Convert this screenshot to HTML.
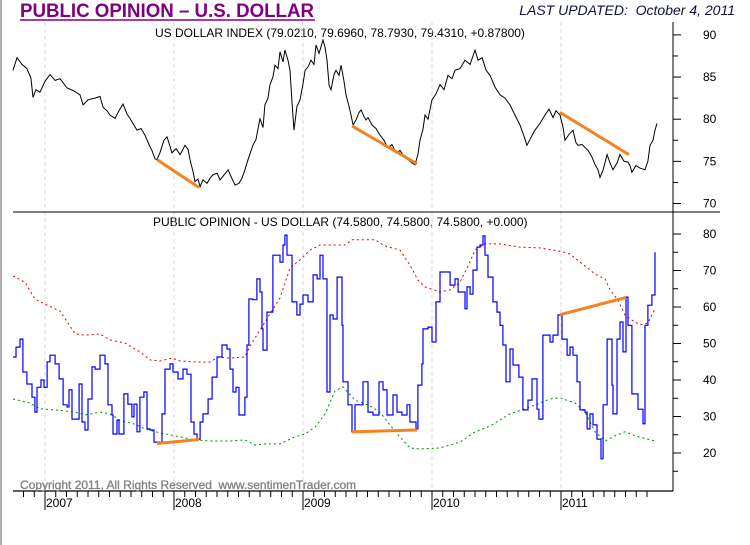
<!DOCTYPE html>
<html><head><meta charset="utf-8"><style>
html,body{margin:0;padding:0;background:#fff;}
svg{display:block;font-family:"Liberation Sans",Arial,sans-serif;}
</style></head><body>
<svg id="chart" width="750" height="545" viewBox="0 0 750 545">
<rect x="0" y="0" width="750" height="545" fill="#fff"/>
<rect x="0" y="0" width="2" height="545" fill="#b0b0b0"/>
<text x="20" y="17" font-size="19" font-weight="bold" fill="#800080" textLength="294" lengthAdjust="spacingAndGlyphs">PUBLIC OPINION – U.S. DOLLAR</text>
<line x1="20" y1="20" x2="315" y2="20" stroke="#800080" stroke-width="1.5"/>
<text x="735" y="15" font-size="14" font-style="italic" fill="#101040" text-anchor="end" xml:space="preserve">LAST UPDATED:  October 4, 2011</text>
<text x="155" y="37" font-size="12" fill="#000">US DOLLAR INDEX (79.0210, 79.6960, 78.7930, 79.4310, +0.87800)</text>
<text x="153" y="226" font-size="12" fill="#000">PUBLIC OPINION - US DOLLAR (74.5800, 74.5800, 74.5800, +0.000)</text>
<g id="grid"></g>
<g id="axes"></g>
<g id="marks"></g>
<text x="20" y="489" font-size="12" fill="#808080" stroke="#808080" stroke-width="0.3" xml:space="preserve">Copyright 2011, All Rights Reserved  www.sentimenTrader.com</text>
</svg>
<script>
const dxyDates=[2006.752,2006.783,2006.822,2006.860,2006.891,2006.907,2006.930,2006.961,2007.000,2007.039,2007.078,2007.116,2007.171,2007.217,2007.271,2007.295,2007.333,2007.388,2007.426,2007.450,2007.481,2007.504,2007.543,2007.574,2007.605,2007.636,2007.659,2007.713,2007.744,2007.775,2007.806,2007.829,2007.853,2007.868,2007.891,2007.922,2007.946,2007.969,2007.984,2008.016,2008.047,2008.085,2008.109,2008.124,2008.147,2008.163,2008.186,2008.202,2008.225,2008.256,2008.279,2008.302,2008.333,2008.357,2008.388,2008.419,2008.442,2008.473,2008.504,2008.527,2008.550,2008.574,2008.612,2008.636,2008.667,2008.690,2008.705,2008.729,2008.744,2008.767,2008.783,2008.806,2008.822,2008.845,2008.860,2008.884,2008.899,2008.915,2008.930,2008.953,2008.977,2009.000,2009.016,2009.039,2009.062,2009.085,2009.101,2009.124,2009.155,2009.171,2009.186,2009.202,2009.217,2009.240,2009.256,2009.279,2009.295,2009.318,2009.333,2009.357,2009.372,2009.388,2009.411,2009.434,2009.450,2009.473,2009.488,2009.504,2009.535,2009.566,2009.597,2009.628,2009.659,2009.690,2009.721,2009.752,2009.783,2009.814,2009.845,2009.868,2009.891,2009.907,2009.930,2009.946,2009.969,2010.000,2010.031,2010.062,2010.093,2010.124,2010.155,2010.178,2010.217,2010.256,2010.295,2010.333,2010.357,2010.388,2010.419,2010.450,2010.488,2010.527,2010.566,2010.605,2010.643,2010.682,2010.713,2010.736,2010.767,2010.798,2010.837,2010.876,2010.907,2010.938,2010.961,2010.992,2011.016,2011.031,2011.062,2011.093,2011.116,2011.132,2011.163,2011.209,2011.240,2011.264,2011.287,2011.302,2011.326,2011.357,2011.380,2011.403,2011.434,2011.457,2011.488,2011.519,2011.535,2011.550,2011.581,2011.612,2011.651,2011.674,2011.690,2011.713,2011.729,2011.744];
const dxyValues=[85.8,87.3,86.5,86.0,84.9,82.6,83.5,83.2,84.5,85.3,84.6,84.8,83.7,83.4,82.9,81.7,82.3,82.5,82.7,81.4,81.0,80.5,80.1,81.0,81.8,80.6,80.1,78.7,78.9,78.1,77.0,76.3,75.3,75.2,76.0,77.5,77.9,76.8,76.0,76.5,75.8,76.9,76.4,75.2,73.8,72.6,72.9,72.0,72.8,72.4,73.0,73.4,73.6,72.8,73.4,74.0,73.2,72.2,72.4,73.0,74.0,75.2,76.9,77.6,80.1,79.0,81.7,82.5,84.1,85.0,86.4,86.0,88.0,86.8,88.2,87.0,85.8,82.0,78.7,81.5,82.3,84.2,85.8,86.2,87.0,86.5,88.8,87.8,89.4,88.5,87.0,84.0,83.5,85.3,85.8,85.2,86.4,84.5,82.9,81.5,80.5,79.3,79.9,80.8,81.1,80.3,79.9,80.2,79.3,78.9,78.1,77.5,76.6,77.0,76.0,76.3,75.6,75.2,74.8,74.6,75.8,77.5,78.8,80.5,80.0,82.3,83.0,84.1,83.5,85.2,84.8,85.8,86.0,87.0,86.5,88.2,87.0,87.3,85.8,85.2,83.8,82.9,82.5,81.7,80.5,79.3,78.0,76.9,77.8,78.7,79.5,80.5,81.2,80.2,81.0,80.5,79.0,77.5,78.2,78.7,77.2,76.9,77.0,76.3,75.5,74.6,74.0,73.1,74.0,75.8,74.8,74.0,74.8,75.8,75.0,74.9,74.5,73.7,74.5,74.2,74.0,75.0,76.9,77.5,78.7,79.5];

const opDates=[2006.752,2006.775,2006.806,2006.829,2006.860,2006.899,2006.922,2006.938,2006.969,2006.992,2007.016,2007.039,2007.078,2007.109,2007.140,2007.171,2007.186,2007.209,2007.264,2007.287,2007.310,2007.333,2007.364,2007.388,2007.426,2007.465,2007.488,2007.519,2007.527,2007.558,2007.574,2007.612,2007.643,2007.674,2007.690,2007.713,2007.736,2007.767,2007.791,2007.814,2007.845,2007.891,2007.907,2007.930,2007.969,2007.992,2008.031,2008.070,2008.101,2008.132,2008.155,2008.178,2008.202,2008.225,2008.264,2008.295,2008.333,2008.372,2008.411,2008.434,2008.457,2008.481,2008.504,2008.550,2008.566,2008.581,2008.612,2008.643,2008.667,2008.682,2008.690,2008.721,2008.767,2008.798,2008.822,2008.845,2008.860,2008.876,2008.915,2008.953,2008.977,2009.000,2009.039,2009.078,2009.109,2009.132,2009.155,2009.186,2009.209,2009.233,2009.264,2009.302,2009.310,2009.349,2009.380,2009.403,2009.465,2009.504,2009.543,2009.589,2009.620,2009.651,2009.698,2009.729,2009.767,2009.806,2009.829,2009.876,2009.891,2009.922,2009.930,2009.969,2010.000,2010.031,2010.062,2010.101,2010.140,2010.178,2010.202,2010.233,2010.256,2010.271,2010.295,2010.318,2010.349,2010.372,2010.395,2010.411,2010.434,2010.473,2010.504,2010.527,2010.550,2010.574,2010.605,2010.628,2010.674,2010.705,2010.744,2010.775,2010.814,2010.829,2010.860,2010.915,2010.938,2010.977,2011.008,2011.047,2011.070,2011.093,2011.124,2011.147,2011.186,2011.202,2011.225,2011.248,2011.279,2011.310,2011.326,2011.357,2011.395,2011.403,2011.434,2011.457,2011.481,2011.504,2011.519,2011.550,2011.574,2011.597,2011.636,2011.651,2011.674,2011.705,2011.729];
const opValues=[46.3,49.0,51.2,42.2,38.9,35.3,31.2,38.0,40.0,38.0,45.0,46.8,44.4,40.3,33.2,32.6,37.3,29.3,38.9,28.5,26.3,34.8,43.6,43.0,46.8,44.4,33.2,30.4,25.2,29.0,25.2,36.2,33.4,29.9,33.4,25.8,35.3,36.7,26.6,26.3,23.0,23.0,30.7,43.0,44.4,42.2,40.3,43.0,41.6,28.5,25.2,23.8,28.5,30.7,34.8,40.8,46.3,49.6,48.5,43.0,36.7,38.0,30.4,35.3,49.6,62.2,62.0,67.7,64.1,54.0,48.2,58.6,74.2,74.2,72.3,77.0,79.7,74.2,61.4,57.8,60.8,63.3,61.4,68.8,67.7,74.2,67.7,36.7,57.8,56.7,68.2,55.0,39.5,33.2,25.8,33.2,39.5,31.2,30.4,39.5,37.3,30.4,35.9,31.2,30.4,33.2,28.5,26.6,38.6,44.4,54.0,54.5,50.4,61.4,69.6,69.6,66.0,67.7,64.1,64.1,59.5,65.5,63.5,70.1,76.4,77.0,79.5,74.2,68.2,61.4,58.6,55.0,49.6,39.5,48.5,44.1,40.8,31.8,34.5,40.3,32.0,29.3,52.3,50.4,52.3,57.8,51.2,46.8,49.0,46.8,39.5,31.8,31.2,26.6,30.7,27.7,23.8,18.4,33.2,51.2,38.6,30.7,51.2,55.9,47.7,62.7,55.0,36.2,36.2,32.0,28.0,55.0,60.5,63.3,75.0];

const upperDates=[2006.752,2006.845,2006.922,2007.000,2007.116,2007.194,2007.233,2007.310,2007.426,2007.504,2007.620,2007.736,2007.814,2007.891,2007.984,2008.047,2008.202,2008.279,2008.341,2008.434,2008.550,2008.589,2008.667,2008.744,2008.822,2008.899,2008.977,2009.054,2009.132,2009.233,2009.326,2009.380,2009.558,2009.636,2009.752,2009.829,2009.891,2009.946,2010.062,2010.140,2010.217,2010.279,2010.333,2010.411,2010.527,2010.682,2010.837,2010.992,2011.070,2011.147,2011.264,2011.341,2011.380,2011.442,2011.496,2011.550,2011.612,2011.674,2011.729];
const upperValues=[68.5,66.8,62.2,60.8,58.9,54.8,52.6,52.3,52.6,51.0,50.1,47.7,45.5,45.2,46.0,45.2,44.9,44.9,46.3,46.0,46.3,49.3,53.7,58.1,62.5,70.7,72.9,75.6,77.0,77.0,77.0,78.4,78.4,76.7,75.6,71.5,67.4,65.5,64.1,64.7,66.8,71.2,75.6,77.3,77.3,76.4,76.2,75.3,74.5,72.3,69.0,67.7,64.7,61.9,57.8,56.4,55.1,55.6,59.5];

const lowerDates=[2006.752,2006.884,2006.961,2007.078,2007.233,2007.310,2007.426,2007.504,2007.581,2007.698,2007.775,2007.891,2008.008,2008.163,2008.279,2008.434,2008.550,2008.628,2008.705,2008.822,2008.938,2009.016,2009.093,2009.171,2009.248,2009.310,2009.403,2009.519,2009.597,2009.674,2009.752,2009.829,2009.907,2010.062,2010.217,2010.333,2010.450,2010.605,2010.721,2010.837,2010.915,2010.992,2011.109,2011.186,2011.264,2011.341,2011.419,2011.496,2011.574,2011.729];
const lowerValues=[34.8,33.7,32.1,31.8,31.2,30.4,31.2,30.7,29.0,27.9,26.6,25.5,24.7,23.6,23.3,23.3,23.6,22.2,22.5,22.5,24.4,25.2,27.1,30.7,37.0,38.1,34.5,32.9,31.2,27.7,24.4,21.4,21.1,21.4,23.0,25.8,27.4,30.7,32.1,33.7,34.8,35.1,33.7,31.2,25.8,23.3,24.7,25.8,24.7,23.3];

const topTrendDates=[[2007.868,2008.194],[2009.380,2009.884],[2010.992,2011.527]];
const topTrendValues=[[75.2,71.9],[79.2,74.7],[80.8,75.8]];
const botTrendDates=[[2007.868,2008.194],[2009.380,2009.884],[2010.992,2011.504]];
const botTrendValues=[[22.6,23.7],[25.8,26.3],[57.9,62.6]];

const years=[2007,2008,2009,2010,2011];
const topTicks=[70,75,80,85,90];
const botTicks=[20,30,40,50,60,70,80];

const NS="http://www.w3.org/2000/svg";
function xScale(t){return 45+(t-2007)*129;}
function yTop(v){return 203.5-(v-70)*8.43;}
function yBot(v){return 453-(v-20)*3.65;}
function mk(tag,attrs,parent){const e=document.createElementNS(NS,tag);for(const k in attrs)e.setAttribute(k,attrs[k]);parent.appendChild(e);return e;}
const grid=document.getElementById('grid'),axes=document.getElementById('axes'),marks=document.getElementById('marks');

years.forEach(y=>{
  const x=xScale(y);
  const g=mk('line',{x1:x,y1:22,x2:x,y2:491,stroke:'#d8d8d8','stroke-dasharray':'4,3'},grid);
  
  
  const tl=mk('line',{x1:x,y1:491,x2:x,y2:510,stroke:'#000'},axes);
  
  
  const lab=mk('text',{x:x+1,y:507,'font-size':12,fill:'#000'},axes);
  lab.textContent=y;
  
  
});
for(let m=0;m<=60;m++){
  const t=2006+8/12+m/12; const x=xScale(t);
  if(x<13||x>673)continue;
  const tk=mk('line',{x1:x,y1:491,x2:x,y2:497,stroke:'#000'},axes);
  
  
}
const xa=mk('line',{x1:13,y1:491,x2:673,y2:491,stroke:'#000','stroke-width':1.3},axes);


const ya=mk('line',{x1:673,y1:22,x2:673,y2:491,stroke:'#000'},axes);


const sep=mk('line',{x1:13,y1:212,x2:720,y2:212,stroke:'#000'},axes);



topTicks.forEach(v=>{
  const y=yTop(v);
  const t=mk('line',{x1:673,y1:y,x2:681,y2:y,stroke:'#000'},axes);
  
  
  if(v<90){const m=mk('line',{x1:673,y1:yTop(v+2.5),x2:678,y2:yTop(v+2.5),stroke:'#000'},axes);
  
  }
  const l=mk('text',{x:703,y:y+4,'font-size':12,fill:'#000'},axes);
  l.textContent=v;
  
  
});
botTicks.forEach(v=>{
  const y=yBot(v);
  const t=mk('line',{x1:673,y1:y,x2:681,y2:y,stroke:'#000'},axes);
  
  
  const m=mk('line',{x1:673,y1:yBot(v-5),x2:678,y2:yBot(v-5),stroke:'#000'},axes);
  
  
  const l=mk('text',{x:703,y:y+4,'font-size':12,fill:'#000'},axes);
  l.textContent=v;
  
  
});

function linePath(ds,vs,ys){return ds.map((d,i)=>(i?'L':'M')+xScale(d).toFixed(1)+','+ys(vs[i]).toFixed(1)).join('');}
function stepPath(ds,vs,ys){let p='M'+xScale(ds[0]).toFixed(1)+','+ys(vs[0]).toFixed(1);for(let i=1;i<ds.length;i++){p+='H'+xScale(ds[i]).toFixed(1)+'V'+ys(vs[i]).toFixed(1);}return p;}

const up=mk('path',{d:linePath(upperDates,upperValues,yBot),fill:'none',stroke:'#e00000','stroke-width':1,'stroke-dasharray':'2,3'},marks);


const lo=mk('path',{d:linePath(lowerDates,lowerValues,yBot),fill:'none',stroke:'#008800','stroke-width':1,'stroke-dasharray':'2,3'},marks);


const op=mk('path',{d:stepPath(opDates,opValues,yBot),fill:'none',stroke:'#0000ff','stroke-width':1.2},marks);


const dx=mk('path',{d:linePath(dxyDates,dxyValues,yTop),fill:'none',stroke:'#000','stroke-width':1},marks);



topTrendDates.forEach((d,i)=>{
  const l=mk('line',{x1:xScale(d[0]),y1:yTop(topTrendValues[i][0]),x2:xScale(d[1]),y2:yTop(topTrendValues[i][1]),stroke:'#f58220','stroke-width':3},marks);
  
  
});
botTrendDates.forEach((d,i)=>{
  const l=mk('line',{x1:xScale(d[0]),y1:yBot(botTrendValues[i][0]),x2:xScale(d[1]),y2:yBot(botTrendValues[i][1]),stroke:'#f58220','stroke-width':3},marks);
  
  
});
</script>
</body></html>
